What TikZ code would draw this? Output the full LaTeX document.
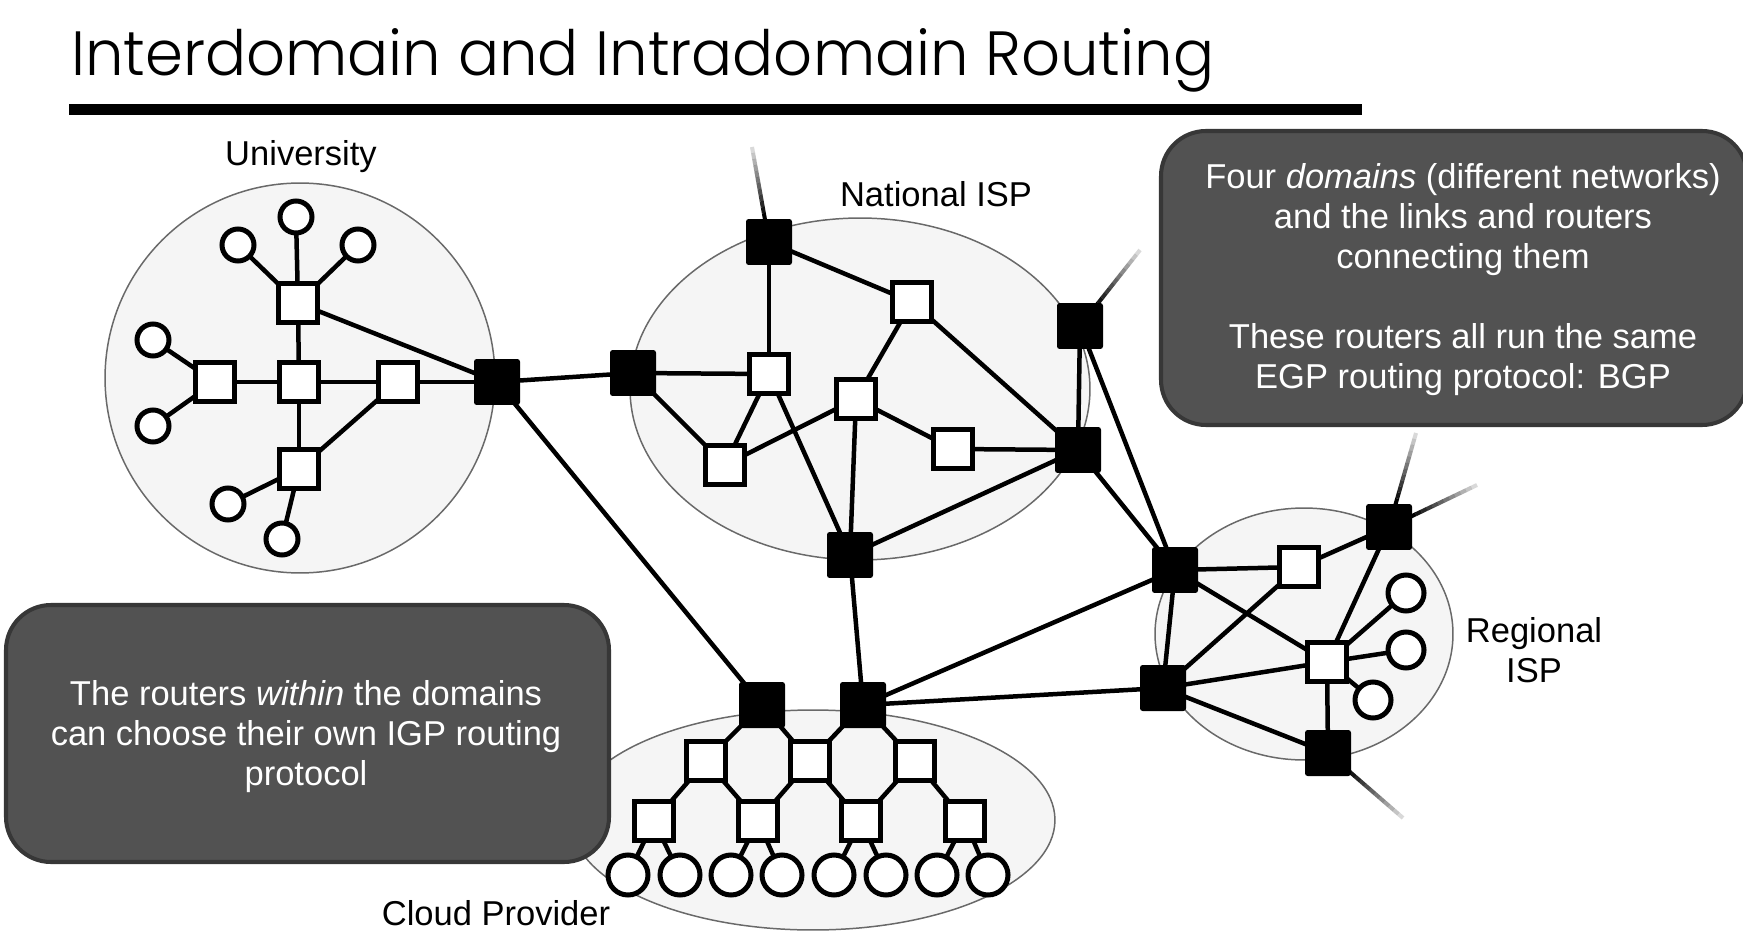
\documentclass[tikz,border=0pt]{standalone}
\usepackage{graphicx}
\usepackage{fontspec}
\setmainfont{Liberation Sans}
\newfontfamily\titlefont{Poppins Light}
\usetikzlibrary{calc}

\pgfdeclarelayer{areas}
\pgfdeclarelayer{links}
\pgfsetlayers{areas,links,main}

\definecolor{areafill}{RGB}{245,245,245}
\definecolor{arealine}{RGB}{105,105,105}
\definecolor{notefill}{RGB}{82,82,82}
\definecolor{noteline}{RGB}{55,55,55}

\tikzset{
  router/.style={rectangle, draw=black, line width=2.85pt, fill=white,
    minimum size=0.78cm, inner sep=0pt},
  gateway/.style={rectangle, fill=black, minimum size=0.92cm, inner sep=0pt,
    rounded corners=1.5pt},
  host/.style={circle, draw=black, line width=2.85pt, fill=white,
    inner sep=0pt, minimum size=#1},
  host/.default=0.64cm,
  link/.style={line width=2.56pt},
  netarea/.style={fill=areafill, draw=arealine, line width=0.85pt},
  caption/.style={font=\fontsize{19.65}{22.76}\selectfont, inner sep=0pt},
  note/.style={caption, text=white, align=center},
  notebox/.style={fill=notefill, draw=noteline, line width=2.3pt, rounded corners=0.9cm},
}

% a link that leaves a router and fades out towards its free end
\newcommand\fadelink[2]{%
  \draw[line width=2.3pt] (#1.center) -- ($(#1.center)!0.24!(#2)$);
  \foreach \k in {0,...,11}{%
    \pgfmathsetmacro\ta{0.24+0.76*\k/12}%
    \pgfmathsetmacro\tb{0.24+0.76*(\k+1)/12}%
    \pgfmathsetmacro\op{1-0.85*\k/11}%
    \draw[line width=2.3pt, draw opacity=\op]
      ($(#1.center)!\ta!(#2)$) -- ($(#1.center)!\tb!(#2)$);
  }%
}

\begin{document}
\begin{tikzpicture}[x=0.02cm, y=-0.02cm]
\useasboundingbox (0,0) rectangle (1743,932);

% title and rule
\node[anchor=base west, inner sep=0pt] (title) at (71,76)
  {\resizebox{22.86cm}{0.94cm}{\titlefont Interdomain and Intradomain Routing}};
\draw[line width=5.7pt] (69,109.5) -- (1362,109.5);

% network areas
\begin{pgfonlayer}{areas}
  \draw[netarea] (300,378) circle [radius=3.9cm];
  \draw[netarea] (860,389) ellipse [x radius=4.6cm, y radius=3.42cm];
  \draw[netarea] (1304,634) ellipse [x radius=2.98cm, y radius=2.52cm];
  \draw[netarea] (813,820) ellipse [x radius=4.84cm, y radius=2.2cm];
\end{pgfonlayer}

% University
\node[gateway] (UR) at (497,382) {};
\node[router] (Ut) at (298,303) {};
\node[router] (Uc) at (299,382) {};
\node[router] (Ul) at (215,382) {};
\node[router] (Ur) at (398,382) {};
\node[router] (Ub) at (299,469) {};
\node[host] (u1) at (238,245) {};
\node[host] (u2) at (296,217) {};
\node[host] (u3) at (358,245) {};
\node[host] (u4) at (153,340) {};
\node[host] (u5) at (153,426) {};
\node[host] (u6) at (228,504) {};
\node[host] (u7) at (282,539) {};

% National ISP
\node[gateway] (A) at (769,242) {};
\node[gateway] (B) at (633,373) {};
\node[router] (C) at (769,374) {};
\node[router] (D) at (912,302) {};
\node[router] (E) at (856,399) {};
\node[router] (F) at (725,465) {};
\node[router] (G) at (953,449) {};
\node[gateway] (H) at (1078,450) {};
\node[gateway] (I) at (1080,326) {};
\node[gateway] (J) at (850,555) {};

% Regional ISP
\node[gateway] (K) at (1175,570) {};
\node[router] (L) at (1299,567) {};
\node[gateway] (M) at (1389,527) {};
\node[router] (N) at (1327,662) {};
\node[gateway] (P) at (1163,688) {};
\node[gateway] (Q) at (1328,753) {};
\node[host=0.72cm] (r1) at (1406,593) {};
\node[host=0.72cm] (r2) at (1406,650) {};
\node[host=0.72cm] (r3) at (1373,700) {};

% Cloud Provider
\node[gateway] (R1) at (762,705) {};
\node[gateway] (R2) at (863,705) {};
\node[router] (W1) at (706,761) {};
\node[router] (W2) at (810,761) {};
\node[router] (W3) at (915,761) {};
\node[router] (X1) at (654,821) {};
\node[router] (X2) at (758,821) {};
\node[router] (X3) at (861,821) {};
\node[router] (X4) at (965,821) {};
\foreach \n/\x in {1/628,2/680,3/731,4/782,5/834,6/886,7/937,8/988}
  \node[host=0.8cm] (c\n) at (\x,875) {};

% free ends of external links
\coordinate (Aend) at (752,147);
\coordinate (Iend) at (1140,250);
\coordinate (Mup) at (1416,433);
\coordinate (Mright) at (1477,485);
\coordinate (Qend) at (1403,818);

\begin{pgfonlayer}{links}
  \foreach \p/\q in {Ut/Uc, Uc/Ul, Uc/Ur, Uc/Ub, Ub/Ur, Ut/UR, Ur/UR,
      Ut/u1, Ut/u2, Ut/u3, Ul/u4, Ul/u5, Ub/u6, Ub/u7,
      UR/B, UR/R1,
      A/C, A/D, B/C, B/F, C/F, C/J, D/E, D/H, E/F, E/J, E/G, G/H, I/H, J/H,
      J/R2, R2/K, R2/P, H/K, I/K,
      K/L, L/M, K/N, L/P, M/N, N/P, N/Q, P/Q, K/P, N/r1, N/r2, N/r3,
      R1/W1, R1/W2, R2/W2, R2/W3,
      W1/X1, W1/X2, W2/X2, W2/X3, W3/X3, W3/X4,
      X1/c1, X1/c2, X2/c3, X2/c4, X3/c5, X3/c6, X4/c7, X4/c8}
    \draw[link] (\p.center) -- (\q.center);
  \fadelink{A}{Aend}
  \fadelink{I}{Iend}
  \fadelink{M}{Mup}
  \fadelink{M}{Mright}
  \fadelink{Q}{Qend}
\end{pgfonlayer}

% area names
\node[caption, anchor=base] (uni) at (301,166) {University};
\node[caption, anchor=base] (nat) at (936,207) {National ISP};
\node[caption, align=center] (reg) at (1534,650) {Regional\\ISP};
\node[caption, anchor=base] (cloud) at (496,925) {Cloud Provider};

% explanatory notes
\draw[notebox] (1161,131) rectangle (1747,425);
\node[note] (egp) at (1463,280)
  {Four \textit{domains} (different networks)\\
   and the links and routers\\
   connecting them\\[22.76pt]
   These routers all run the same\\
   EGP routing protocol: BGP};
\draw[notebox] (6,605) rectangle (609,862);
\node[note] (igp) at (306,737)
  {The routers \textit{within} the domains\\
   can choose their own IGP routing\\
   protocol};
\end{tikzpicture}
\end{document}
